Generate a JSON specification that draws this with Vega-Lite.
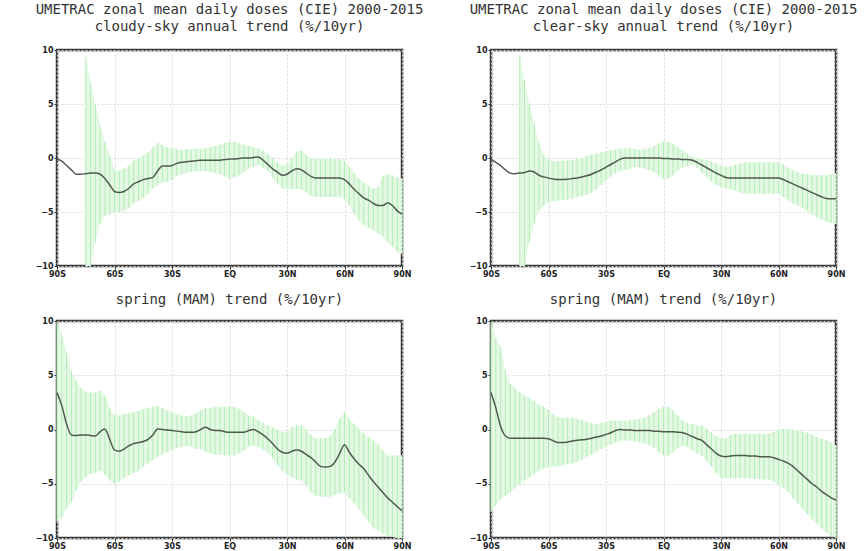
{
"$schema": "https://vega.github.io/schema/vega-lite/v6.json",
"background": "white",
"padding": {"left": 33, "top": 1, "right": 5, "bottom": 5},
"columns": 2,
"spacing": {"row": 55, "column": 89},
"bounds": "flush",
"datasets": {
"A": [
{"lat":-90,"m":-0.1,"lo":null,"hi":null},{"lat":-87.5,"m":-0.3,"lo":null,"hi":null},{"lat":-85,"m":-0.7,"lo":null,"hi":null},{"lat":-82.5,"m":-1.1,"lo":null,"hi":null},{"lat":-80,"m":-1.5,"lo":null,"hi":null},{"lat":-77.5,"m":-1.5,"lo":null,"hi":null},
{"lat":-75,"m":-1.45,"lo":-10,"hi":9.35},{"lat":-72.5,"m":-1.4,"lo":-10,"hi":7.0},{"lat":-70,"m":-1.4,"lo":-7.8,"hi":5.0},{"lat":-67.5,"m":-1.5,"lo":-6.1,"hi":3.0},{"lat":-65,"m":-1.9,"lo":-5.4,"hi":1.5},{"lat":-62.5,"m":-2.5,"lo":-5.2,"hi":0.3},
{"lat":-60,"m":-3.1,"lo":-5.1,"hi":-1.1},{"lat":-57.5,"m":-3.2,"lo":-5.0,"hi":-1.2},{"lat":-55,"m":-3.1,"lo":-4.9,"hi":-1.0},{"lat":-52.5,"m":-2.8,"lo":-4.6,"hi":-0.7},{"lat":-50,"m":-2.4,"lo":-4.2,"hi":-0.2},{"lat":-47.5,"m":-2.2,"lo":-4.0,"hi":0.0},
{"lat":-45,"m":-2.0,"lo":-3.7,"hi":0.2},{"lat":-42.5,"m":-1.9,"lo":-3.3,"hi":0.5},{"lat":-40,"m":-1.8,"lo":-2.8,"hi":1.0},{"lat":-37.5,"m":-1.2,"lo":-2.5,"hi":1.4},{"lat":-35,"m":-0.75,"lo":-2.3,"hi":1.2},{"lat":-32.5,"m":-0.75,"lo":-2.2,"hi":1.0},
{"lat":-30,"m":-0.7,"lo":-2.0,"hi":0.9},{"lat":-27.5,"m":-0.5,"lo":-1.7,"hi":0.8},{"lat":-25,"m":-0.4,"lo":-1.5,"hi":0.75},{"lat":-22.5,"m":-0.35,"lo":-1.4,"hi":0.8},{"lat":-20,"m":-0.3,"lo":-1.3,"hi":0.8},{"lat":-17.5,"m":-0.25,"lo":-1.2,"hi":0.85},
{"lat":-15,"m":-0.2,"lo":-1.2,"hi":0.85},{"lat":-12.5,"m":-0.2,"lo":-1.2,"hi":0.9},{"lat":-10,"m":-0.2,"lo":-1.3,"hi":1.0},{"lat":-7.5,"m":-0.2,"lo":-1.4,"hi":1.1},{"lat":-5,"m":-0.2,"lo":-1.5,"hi":1.2},{"lat":-2.5,"m":-0.15,"lo":-1.7,"hi":1.4},
{"lat":0,"m":-0.1,"lo":-1.9,"hi":1.5},{"lat":2.5,"m":-0.1,"lo":-1.8,"hi":1.5},{"lat":5,"m":-0.05,"lo":-1.6,"hi":1.4},{"lat":7.5,"m":0.0,"lo":-1.3,"hi":1.2},{"lat":10,"m":0.0,"lo":-1.0,"hi":1.1},{"lat":12.5,"m":0.05,"lo":-0.8,"hi":1.0},
{"lat":15,"m":0.1,"lo":-0.6,"hi":0.9},{"lat":17.5,"m":-0.2,"lo":-0.9,"hi":0.7},{"lat":20,"m":-0.6,"lo":-1.2,"hi":0.4},{"lat":22.5,"m":-1.0,"lo":-1.8,"hi":0.0},{"lat":25,"m":-1.3,"lo":-2.4,"hi":-0.4},{"lat":27.5,"m":-1.6,"lo":-2.8,"hi":-0.7},
{"lat":30,"m":-1.5,"lo":-2.9,"hi":-0.6},{"lat":32.5,"m":-1.2,"lo":-2.9,"hi":0.0},{"lat":35,"m":-1.0,"lo":-2.85,"hi":0.6},{"lat":37.5,"m":-1.1,"lo":-2.9,"hi":0.7},{"lat":40,"m":-1.4,"lo":-3.2,"hi":0.3},{"lat":42.5,"m":-1.7,"lo":-3.5,"hi":0.0},
{"lat":45,"m":-1.85,"lo":-3.6,"hi":-0.1},{"lat":47.5,"m":-1.85,"lo":-3.6,"hi":-0.1},{"lat":50,"m":-1.85,"lo":-3.6,"hi":-0.1},{"lat":52.5,"m":-1.85,"lo":-3.6,"hi":-0.1},{"lat":55,"m":-1.85,"lo":-3.6,"hi":-0.1},{"lat":57.5,"m":-1.85,"lo":-3.6,"hi":-0.1},
{"lat":60,"m":-2.0,"lo":-3.8,"hi":-0.3},{"lat":62.5,"m":-2.4,"lo":-4.4,"hi":-0.8},{"lat":65,"m":-2.9,"lo":-5.2,"hi":-1.4},{"lat":67.5,"m":-3.3,"lo":-5.8,"hi":-1.9},{"lat":70,"m":-3.7,"lo":-6.2,"hi":-2.3},{"lat":72.5,"m":-3.9,"lo":-6.5,"hi":-2.6},
{"lat":75,"m":-4.2,"lo":-6.7,"hi":-2.85},{"lat":77.5,"m":-4.4,"lo":-7.0,"hi":-2.7},{"lat":80,"m":-4.4,"lo":-7.3,"hi":-1.7},{"lat":82.5,"m":-4.15,"lo":-7.8,"hi":-1.5},{"lat":85,"m":-4.4,"lo":-8.2,"hi":-1.6},{"lat":87.5,"m":-4.9,"lo":-8.7,"hi":-1.8},
{"lat":90,"m":-5.2,"lo":-8.9,"hi":-1.9}
],
"B": [
{"lat":-90,"m":-0.1,"lo":null,"hi":null},{"lat":-87.5,"m":-0.4,"lo":null,"hi":null},{"lat":-85,"m":-0.7,"lo":null,"hi":null},{"lat":-82.5,"m":-1.1,"lo":null,"hi":null},{"lat":-80,"m":-1.4,"lo":null,"hi":null},{"lat":-77.5,"m":-1.45,"lo":null,"hi":null},
{"lat":-75,"m":-1.4,"lo":-10,"hi":9.5},{"lat":-72.5,"m":-1.35,"lo":-10,"hi":7.2},{"lat":-70,"m":-1.2,"lo":-7.8,"hi":5.0},{"lat":-67.5,"m":-1.3,"lo":-6.1,"hi":3.2},{"lat":-65,"m":-1.6,"lo":-4.9,"hi":1.5},{"lat":-62.5,"m":-1.75,"lo":-4.4,"hi":0.3},
{"lat":-60,"m":-1.85,"lo":-4.1,"hi":-0.2},{"lat":-57.5,"m":-1.95,"lo":-4.0,"hi":-0.3},{"lat":-55,"m":-2.0,"lo":-3.95,"hi":-0.3},{"lat":-52.5,"m":-2.0,"lo":-3.9,"hi":-0.25},{"lat":-50,"m":-1.97,"lo":-3.85,"hi":-0.2},{"lat":-47.5,"m":-1.9,"lo":-3.75,"hi":-0.15},
{"lat":-45,"m":-1.85,"lo":-3.6,"hi":-0.1},{"lat":-42.5,"m":-1.75,"lo":-3.5,"hi":0.0},{"lat":-40,"m":-1.65,"lo":-3.4,"hi":0.2},{"lat":-37.5,"m":-1.5,"lo":-3.2,"hi":0.3},{"lat":-35,"m":-1.3,"lo":-2.9,"hi":0.4},{"lat":-32.5,"m":-1.1,"lo":-2.5,"hi":0.5},
{"lat":-30,"m":-0.85,"lo":-2.1,"hi":0.65},{"lat":-27.5,"m":-0.6,"lo":-1.7,"hi":0.7},{"lat":-25,"m":-0.35,"lo":-1.4,"hi":0.8},{"lat":-22.5,"m":-0.1,"lo":-1.2,"hi":0.9},{"lat":-20,"m":0.0,"lo":-1.1,"hi":0.9},{"lat":-17.5,"m":0.0,"lo":-1.0,"hi":0.9},
{"lat":-15,"m":0.0,"lo":-0.8,"hi":0.85},{"lat":-12.5,"m":0.0,"lo":-0.9,"hi":0.75},{"lat":-10,"m":0.0,"lo":-1.0,"hi":0.8},{"lat":-7.5,"m":0.0,"lo":-1.1,"hi":0.9},{"lat":-5,"m":0.0,"lo":-1.3,"hi":1.1},{"lat":-2.5,"m":0.0,"lo":-1.6,"hi":1.35},
{"lat":0,"m":-0.05,"lo":-1.9,"hi":1.5},{"lat":2.5,"m":-0.05,"lo":-1.9,"hi":1.5},{"lat":5,"m":-0.1,"lo":-1.6,"hi":1.3},{"lat":7.5,"m":-0.1,"lo":-1.2,"hi":1.0},{"lat":10,"m":-0.15,"lo":-0.9,"hi":0.7},{"lat":12.5,"m":-0.15,"lo":-0.7,"hi":0.4},
{"lat":15,"m":-0.2,"lo":-0.6,"hi":0.1},{"lat":17.5,"m":-0.4,"lo":-0.9,"hi":0.0},{"lat":20,"m":-0.65,"lo":-1.4,"hi":-0.1},{"lat":22.5,"m":-0.9,"lo":-1.8,"hi":-0.2},{"lat":25,"m":-1.15,"lo":-2.2,"hi":-0.3},{"lat":27.5,"m":-1.4,"lo":-2.5,"hi":-0.5},
{"lat":30,"m":-1.6,"lo":-2.7,"hi":-0.7},{"lat":32.5,"m":-1.8,"lo":-2.85,"hi":-0.8},{"lat":35,"m":-1.85,"lo":-2.9,"hi":-0.8},{"lat":37.5,"m":-1.85,"lo":-3.0,"hi":-0.6},{"lat":40,"m":-1.85,"lo":-3.2,"hi":-0.5},{"lat":42.5,"m":-1.85,"lo":-3.3,"hi":-0.4},
{"lat":45,"m":-1.85,"lo":-3.3,"hi":-0.4},{"lat":47.5,"m":-1.85,"lo":-3.3,"hi":-0.4},{"lat":50,"m":-1.85,"lo":-3.3,"hi":-0.4},{"lat":52.5,"m":-1.85,"lo":-3.3,"hi":-0.4},{"lat":55,"m":-1.85,"lo":-3.3,"hi":-0.4},{"lat":57.5,"m":-1.85,"lo":-3.3,"hi":-0.4},
{"lat":60,"m":-1.85,"lo":-3.3,"hi":-0.4},{"lat":62.5,"m":-2.0,"lo":-3.6,"hi":-0.6},{"lat":65,"m":-2.2,"lo":-3.9,"hi":-0.9},{"lat":67.5,"m":-2.4,"lo":-4.2,"hi":-1.1},{"lat":70,"m":-2.6,"lo":-4.4,"hi":-1.3},{"lat":72.5,"m":-2.8,"lo":-4.6,"hi":-1.45},
{"lat":75,"m":-3.0,"lo":-4.9,"hi":-1.5},{"lat":77.5,"m":-3.2,"lo":-5.2,"hi":-1.55},{"lat":80,"m":-3.4,"lo":-5.5,"hi":-1.6},{"lat":82.5,"m":-3.6,"lo":-5.7,"hi":-1.6},{"lat":85,"m":-3.75,"lo":-5.9,"hi":-1.6},{"lat":87.5,"m":-3.77,"lo":-6.0,"hi":-1.5},
{"lat":90,"m":-3.77,"lo":-6.1,"hi":-1.4}
],
"C": [
{"lat":-90,"m":3.4,"lo":-8.5,"hi":9.9},{"lat":-87.5,"m":2.2,"lo":-8.2,"hi":8.7},{"lat":-85,"m":0.5,"lo":-7.3,"hi":7.1},{"lat":-82.5,"m":-0.5,"lo":-6.7,"hi":5.4},{"lat":-80,"m":-0.55,"lo":-5.6,"hi":4.5},{"lat":-77.5,"m":-0.5,"lo":-4.8,"hi":3.8},
{"lat":-75,"m":-0.5,"lo":-4.4,"hi":3.5},{"lat":-72.5,"m":-0.55,"lo":-4.1,"hi":3.4},{"lat":-70,"m":-0.6,"lo":-4.0,"hi":3.4},{"lat":-67.5,"m":-0.2,"lo":-3.8,"hi":3.6},{"lat":-65,"m":0.05,"lo":-4.2,"hi":3.1},{"lat":-62.5,"m":-0.9,"lo":-4.7,"hi":2.0},
{"lat":-60,"m":-1.9,"lo":-5.0,"hi":1.3},{"lat":-57.5,"m":-2.0,"lo":-4.8,"hi":1.3},{"lat":-55,"m":-1.8,"lo":-4.5,"hi":1.4},{"lat":-52.5,"m":-1.5,"lo":-4.2,"hi":1.5},{"lat":-50,"m":-1.3,"lo":-4.0,"hi":1.6},{"lat":-47.5,"m":-1.2,"lo":-3.8,"hi":1.7},
{"lat":-45,"m":-1.1,"lo":-3.4,"hi":1.9},{"lat":-42.5,"m":-0.9,"lo":-3.1,"hi":2.0},{"lat":-40,"m":-0.5,"lo":-2.8,"hi":2.1},{"lat":-37.5,"m":0.05,"lo":-2.5,"hi":2.2},{"lat":-35,"m":0.0,"lo":-2.3,"hi":2.0},{"lat":-32.5,"m":-0.05,"lo":-2.1,"hi":1.8},
{"lat":-30,"m":-0.1,"lo":-1.9,"hi":1.6},{"lat":-27.5,"m":-0.15,"lo":-1.7,"hi":1.4},{"lat":-25,"m":-0.2,"lo":-1.6,"hi":1.3},{"lat":-22.5,"m":-0.25,"lo":-1.5,"hi":1.2},{"lat":-20,"m":-0.25,"lo":-1.6,"hi":1.3},{"lat":-17.5,"m":-0.2,"lo":-1.8,"hi":1.5},
{"lat":-15,"m":0.0,"lo":-1.8,"hi":1.8},{"lat":-12.5,"m":0.2,"lo":-2.1,"hi":2.0},{"lat":-10,"m":0.0,"lo":-2.2,"hi":2.0},{"lat":-7.5,"m":-0.1,"lo":-2.3,"hi":2.1},{"lat":-5,"m":-0.1,"lo":-2.3,"hi":2.1},{"lat":-2.5,"m":-0.2,"lo":-2.4,"hi":2.1},
{"lat":0,"m":-0.25,"lo":-2.4,"hi":2.1},{"lat":2.5,"m":-0.25,"lo":-2.4,"hi":2.1},{"lat":5,"m":-0.25,"lo":-2.2,"hi":1.9},{"lat":7.5,"m":-0.25,"lo":-2.0,"hi":1.6},{"lat":10,"m":-0.1,"lo":-1.6,"hi":1.3},{"lat":12.5,"m":0.0,"lo":-1.45,"hi":1.2},
{"lat":15,"m":-0.2,"lo":-1.6,"hi":0.9},{"lat":17.5,"m":-0.5,"lo":-1.9,"hi":0.6},{"lat":20,"m":-0.85,"lo":-2.1,"hi":0.4},{"lat":22.5,"m":-1.3,"lo":-2.7,"hi":0.2},{"lat":25,"m":-1.8,"lo":-3.3,"hi":0.0},{"lat":27.5,"m":-2.1,"lo":-3.8,"hi":-0.2},
{"lat":30,"m":-2.2,"lo":-4.1,"hi":-0.2},{"lat":32.5,"m":-2.0,"lo":-4.4,"hi":0.2},{"lat":35,"m":-1.9,"lo":-4.6,"hi":0.4},{"lat":37.5,"m":-2.0,"lo":-4.7,"hi":0.4},{"lat":40,"m":-2.3,"lo":-5.2,"hi":0.0},{"lat":42.5,"m":-2.6,"lo":-5.8,"hi":-0.5},
{"lat":45,"m":-3.0,"lo":-6.1,"hi":-0.8},{"lat":47.5,"m":-3.4,"lo":-6.2,"hi":-0.8},{"lat":50,"m":-3.45,"lo":-6.2,"hi":-0.8},{"lat":52.5,"m":-3.4,"lo":-6.2,"hi":-0.6},{"lat":55,"m":-3.0,"lo":-6.0,"hi":0.0},{"lat":57.5,"m":-2.2,"lo":-5.9,"hi":1.0},
{"lat":60,"m":-1.4,"lo":-5.8,"hi":1.6},{"lat":62.5,"m":-2.1,"lo":-6.3,"hi":1.0},{"lat":65,"m":-2.7,"lo":-6.8,"hi":0.5},{"lat":67.5,"m":-3.2,"lo":-7.3,"hi":0.1},{"lat":70,"m":-3.6,"lo":-7.9,"hi":-0.3},{"lat":72.5,"m":-4.2,"lo":-8.5,"hi":-0.7},
{"lat":75,"m":-4.8,"lo":-9.1,"hi":-1.0},{"lat":77.5,"m":-5.3,"lo":-9.3,"hi":-1.4},{"lat":80,"m":-5.8,"lo":-9.6,"hi":-1.9},{"lat":82.5,"m":-6.3,"lo":-9.8,"hi":-2.4},{"lat":85,"m":-6.7,"lo":-9.9,"hi":-2.4},{"lat":87.5,"m":-7.1,"lo":-10,"hi":-2.4},
{"lat":90,"m":-7.5,"lo":-10,"hi":-2.4}
],
"D": [
{"lat":-90,"m":3.4,"lo":-7.6,"hi":9.9},{"lat":-87.5,"m":2.0,"lo":-7.0,"hi":8.4},{"lat":-85,"m":0.3,"lo":-6.4,"hi":7.6},{"lat":-82.5,"m":-0.6,"lo":-6.1,"hi":5.5},{"lat":-80,"m":-0.8,"lo":-5.8,"hi":4.2},{"lat":-77.5,"m":-0.8,"lo":-5.4,"hi":3.8},
{"lat":-75,"m":-0.8,"lo":-5.0,"hi":3.4},{"lat":-72.5,"m":-0.8,"lo":-4.7,"hi":3.1},{"lat":-70,"m":-0.8,"lo":-4.4,"hi":2.9},{"lat":-67.5,"m":-0.8,"lo":-4.1,"hi":2.6},{"lat":-65,"m":-0.8,"lo":-3.8,"hi":2.3},{"lat":-62.5,"m":-0.8,"lo":-3.6,"hi":2.1},
{"lat":-60,"m":-0.85,"lo":-3.5,"hi":1.8},{"lat":-57.5,"m":-1.05,"lo":-3.4,"hi":1.4},{"lat":-55,"m":-1.2,"lo":-3.4,"hi":1.1},{"lat":-52.5,"m":-1.2,"lo":-3.3,"hi":1.1},{"lat":-50,"m":-1.15,"lo":-3.2,"hi":1.1},{"lat":-47.5,"m":-1.05,"lo":-3.1,"hi":1.1},
{"lat":-45,"m":-1.0,"lo":-3.0,"hi":1.0},{"lat":-42.5,"m":-0.95,"lo":-2.8,"hi":0.9},{"lat":-40,"m":-0.9,"lo":-2.5,"hi":0.7},{"lat":-37.5,"m":-0.8,"lo":-2.3,"hi":0.6},{"lat":-35,"m":-0.7,"lo":-2.0,"hi":0.5},{"lat":-32.5,"m":-0.6,"lo":-1.8,"hi":0.6},
{"lat":-30,"m":-0.45,"lo":-1.6,"hi":0.7},{"lat":-27.5,"m":-0.3,"lo":-1.4,"hi":0.8},{"lat":-25,"m":-0.1,"lo":-1.2,"hi":0.8},{"lat":-22.5,"m":0.0,"lo":-1.05,"hi":0.8},{"lat":-20,"m":-0.05,"lo":-1.0,"hi":0.8},{"lat":-17.5,"m":-0.05,"lo":-1.05,"hi":0.85},
{"lat":-15,"m":-0.1,"lo":-1.1,"hi":0.95},{"lat":-12.5,"m":-0.1,"lo":-1.2,"hi":1.0},{"lat":-10,"m":-0.1,"lo":-1.3,"hi":1.1},{"lat":-7.5,"m":-0.1,"lo":-1.45,"hi":1.3},{"lat":-5,"m":-0.15,"lo":-1.7,"hi":1.6},{"lat":-2.5,"m":-0.15,"lo":-2.1,"hi":1.9},
{"lat":0,"m":-0.2,"lo":-2.4,"hi":2.1},{"lat":2.5,"m":-0.2,"lo":-2.4,"hi":2.1},{"lat":5,"m":-0.2,"lo":-2.1,"hi":1.8},{"lat":7.5,"m":-0.25,"lo":-1.7,"hi":1.3},{"lat":10,"m":-0.3,"lo":-1.45,"hi":0.8},{"lat":12.5,"m":-0.45,"lo":-1.6,"hi":0.6},
{"lat":15,"m":-0.65,"lo":-1.9,"hi":0.5},{"lat":17.5,"m":-0.85,"lo":-2.2,"hi":0.4},{"lat":20,"m":-1.0,"lo":-2.4,"hi":0.35},{"lat":22.5,"m":-1.4,"lo":-2.9,"hi":0.1},{"lat":25,"m":-1.8,"lo":-3.4,"hi":-0.3},{"lat":27.5,"m":-2.2,"lo":-4.0,"hi":-0.6},
{"lat":30,"m":-2.45,"lo":-4.4,"hi":-0.8},{"lat":32.5,"m":-2.5,"lo":-4.5,"hi":-0.85},{"lat":35,"m":-2.45,"lo":-4.5,"hi":-0.5},{"lat":37.5,"m":-2.4,"lo":-4.5,"hi":-0.4},{"lat":40,"m":-2.4,"lo":-4.5,"hi":-0.4},{"lat":42.5,"m":-2.4,"lo":-4.5,"hi":-0.4},
{"lat":45,"m":-2.45,"lo":-4.5,"hi":-0.4},{"lat":47.5,"m":-2.45,"lo":-4.55,"hi":-0.4},{"lat":50,"m":-2.5,"lo":-4.55,"hi":-0.4},{"lat":52.5,"m":-2.5,"lo":-4.6,"hi":-0.4},{"lat":55,"m":-2.5,"lo":-4.6,"hi":-0.4},{"lat":57.5,"m":-2.6,"lo":-4.8,"hi":-0.2},
{"lat":60,"m":-2.75,"lo":-5.1,"hi":0.0},{"lat":62.5,"m":-2.9,"lo":-5.4,"hi":0.05},{"lat":65,"m":-3.1,"lo":-5.75,"hi":0.05},{"lat":67.5,"m":-3.4,"lo":-6.3,"hi":0.0},{"lat":70,"m":-3.8,"lo":-6.8,"hi":-0.1},{"lat":72.5,"m":-4.2,"lo":-7.3,"hi":-0.2},
{"lat":75,"m":-4.6,"lo":-7.8,"hi":-0.3},{"lat":77.5,"m":-5.0,"lo":-8.3,"hi":-0.5},{"lat":80,"m":-5.3,"lo":-8.7,"hi":-0.7},{"lat":82.5,"m":-5.7,"lo":-9.1,"hi":-0.85},{"lat":85,"m":-6.0,"lo":-9.5,"hi":-1.0},{"lat":87.5,"m":-6.3,"lo":-9.8,"hi":-1.2},
{"lat":90,"m":-6.5,"lo":-10,"hi":-1.45}
]
},
"concat": [
{
"width": 345, "height": 216,
"title": {"text": "UMETRAC zonal mean daily doses (CIE) 2000-2015", "subtitle": "cloudy-sky annual trend (%/10yr)", "offset": 12},
"data": {"name": "A"},
"encoding": {"x": {"field": "lat", "type": "quantitative", "title": null, "scale": {"domain": [-90, 90], "nice": false}, "axis": {"values": [-90, -60, -30, 0, 30, 60, 90], "labelExpr": "datum.value < 0 ? (-datum.value) + 'S' : (datum.value > 0 ? datum.value + 'N' : 'EQ')"}}},
"layer": [
{"transform": [{"filter": "isValid(datum.hi)"}], "mark": {"type": "area", "color": "#e4f9e4", "opacity": 1}, "encoding": {"y": {"field": "lo", "type": "quantitative", "title": null, "scale": {"domain": [-10, 10], "nice": false}, "axis": {"values": [-10, -5, 0, 5, 10]}}, "y2": {"field": "hi"}}},
{"transform": [{"filter": "isValid(datum.hi)"}], "mark": {"type": "rule", "color": "#b3edb3", "strokeWidth": 1}, "encoding": {"y": {"field": "lo", "type": "quantitative", "title": null}, "y2": {"field": "hi"}}},
{"mark": {"type": "line", "color": "#4f5a4f", "strokeWidth": 1.5, "interpolate": "monotone"}, "encoding": {"y": {"field": "m", "type": "quantitative", "title": null}}}
]
},
{
"width": 345, "height": 216,
"title": {"text": "UMETRAC zonal mean daily doses (CIE) 2000-2015", "subtitle": "clear-sky annual trend (%/10yr)", "offset": 12},
"data": {"name": "B"},
"encoding": {"x": {"field": "lat", "type": "quantitative", "title": null, "scale": {"domain": [-90, 90], "nice": false}, "axis": {"values": [-90, -60, -30, 0, 30, 60, 90], "labelExpr": "datum.value < 0 ? (-datum.value) + 'S' : (datum.value > 0 ? datum.value + 'N' : 'EQ')"}}},
"layer": [
{"transform": [{"filter": "isValid(datum.hi)"}], "mark": {"type": "area", "color": "#e4f9e4", "opacity": 1}, "encoding": {"y": {"field": "lo", "type": "quantitative", "title": null, "scale": {"domain": [-10, 10], "nice": false}, "axis": {"values": [-10, -5, 0, 5, 10]}}, "y2": {"field": "hi"}}},
{"transform": [{"filter": "isValid(datum.hi)"}], "mark": {"type": "rule", "color": "#b3edb3", "strokeWidth": 1}, "encoding": {"y": {"field": "lo", "type": "quantitative", "title": null}, "y2": {"field": "hi"}}},
{"mark": {"type": "line", "color": "#4f5a4f", "strokeWidth": 1.5, "interpolate": "monotone"}, "encoding": {"y": {"field": "m", "type": "quantitative", "title": null}}}
]
},
{
"width": 345, "height": 217,
"title": {"text": "spring (MAM) trend (%/10yr)", "offset": 10},
"data": {"name": "C"},
"encoding": {"x": {"field": "lat", "type": "quantitative", "title": null, "scale": {"domain": [-90, 90], "nice": false}, "axis": {"values": [-90, -60, -30, 0, 30, 60, 90], "labelExpr": "datum.value < 0 ? (-datum.value) + 'S' : (datum.value > 0 ? datum.value + 'N' : 'EQ')"}}},
"layer": [
{"mark": {"type": "area", "color": "#e4f9e4", "opacity": 1}, "encoding": {"y": {"field": "lo", "type": "quantitative", "title": null, "scale": {"domain": [-10, 10], "nice": false}, "axis": {"values": [-10, -5, 0, 5, 10]}}, "y2": {"field": "hi"}}},
{"mark": {"type": "rule", "color": "#b3edb3", "strokeWidth": 1}, "encoding": {"y": {"field": "lo", "type": "quantitative", "title": null}, "y2": {"field": "hi"}}},
{"mark": {"type": "line", "color": "#4f5a4f", "strokeWidth": 1.5, "interpolate": "monotone"}, "encoding": {"y": {"field": "m", "type": "quantitative", "title": null}}}
]
},
{
"width": 345, "height": 217,
"title": {"text": "spring (MAM) trend (%/10yr)", "offset": 10},
"data": {"name": "D"},
"encoding": {"x": {"field": "lat", "type": "quantitative", "title": null, "scale": {"domain": [-90, 90], "nice": false}, "axis": {"values": [-90, -60, -30, 0, 30, 60, 90], "labelExpr": "datum.value < 0 ? (-datum.value) + 'S' : (datum.value > 0 ? datum.value + 'N' : 'EQ')"}}},
"layer": [
{"mark": {"type": "area", "color": "#e4f9e4", "opacity": 1}, "encoding": {"y": {"field": "lo", "type": "quantitative", "title": null, "scale": {"domain": [-10, 10], "nice": false}, "axis": {"values": [-10, -5, 0, 5, 10]}}, "y2": {"field": "hi"}}},
{"mark": {"type": "rule", "color": "#b3edb3", "strokeWidth": 1}, "encoding": {"y": {"field": "lo", "type": "quantitative", "title": null}, "y2": {"field": "hi"}}},
{"mark": {"type": "line", "color": "#4f5a4f", "strokeWidth": 1.5, "interpolate": "monotone"}, "encoding": {"y": {"field": "m", "type": "quantitative", "title": null}}}
]
}
],
"config": {
"view": {"stroke": "#3a3a3a", "strokeWidth": 2.5},
"axis": {"domain": false, "grid": true, "gridColor": "#d8d8d8", "gridDash": [2, 2], "gridWidth": 1, "tickColor": "#333", "tickSize": 3, "labelFontSize": 8, "labelFont": "DejaVu Sans", "labelFontWeight": "bold", "labelColor": "#222", "labelPadding": 1, "labelFlush": false},
"title": {"font": "DejaVu Sans Mono", "fontSize": 14, "fontWeight": "normal", "color": "#333", "anchor": "middle", "subtitleFont": "DejaVu Sans Mono", "subtitleFontSize": 14, "subtitleColor": "#333", "subtitlePadding": 0}
}
}
